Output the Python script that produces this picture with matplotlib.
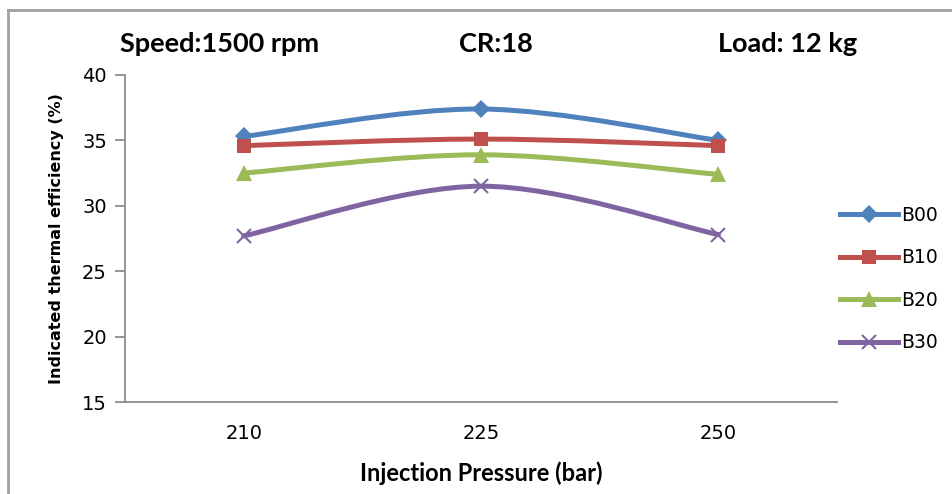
import matplotlib.pyplot as plt
from matplotlib.path import Path
from matplotlib.patches import PathPatch
from matplotlib.lines import Line2D

pressures = ["210", "225", "250"]
b00 = [35.3, 37.4, 35.0]
b10 = [34.6, 35.1, 34.6]
b20 = [32.5, 33.9, 32.4]
b30 = [27.7, 31.5, 27.8]

series = [
    ("B00", b00, "#4F81BD", "D", 9.5),
    ("B10", b10, "#C0504D", "s", 10),
    ("B20", b20, "#9BBB59", "^", 11),
    ("B30", b30, "#8064A2", "x", 10),
]


def smooth_path(xs, ys):
    # excel-like smoothed line: bezier segments, tension 1/6
    pts = list(zip(xs, ys))
    n = len(pts)
    verts = [pts[0]]
    codes = [Path.MOVETO]
    for i in range(n - 1):
        p0 = pts[max(i - 1, 0)]
        p1 = pts[i]
        p2 = pts[i + 1]
        p3 = pts[min(i + 2, n - 1)]
        c1 = (p1[0] + (p2[0] - p0[0]) / 6, p1[1] + (p2[1] - p0[1]) / 6)
        c2 = (p2[0] - (p3[0] - p1[0]) / 6, p2[1] - (p3[1] - p1[1]) / 6)
        verts += [c1, c2, p2]
        codes += [Path.CURVE4] * 3
    return Path(verts, codes)


fig = plt.figure(figsize=(9.52, 4.94), dpi=100)
ax = fig.add_axes([0.1313, 0.1862, 0.7480, 0.6620])

xpos = list(range(len(pressures)))
handles = []
for name, vals, col, mk, ms in series:
    ax.add_patch(PathPatch(smooth_path(xpos, vals), facecolor="none",
                           edgecolor=col, lw=3.6, capstyle="round", zorder=3))
    mew = 1.5 if mk == "x" else 0
    ax.plot(xpos, vals, linestyle="none", marker=mk, markersize=ms,
            color=col, markeredgewidth=mew, zorder=4)
    handles.append(Line2D([], [], color=col, lw=3.6, marker=mk,
                          markersize=ms, markeredgewidth=mew, label=name))

ax.set_xlim(-0.5, 2.5)
ax.set_ylim(15, 40)
ax.set_yticks([15, 20, 25, 30, 35, 40])
ax.set_xticks(xpos)
ax.set_xticklabels(pressures)

for s in ["top", "right"]:
    ax.spines[s].set_visible(False)
ax.spines["left"].set_color("#8c8c8c")
ax.spines["bottom"].set_color("#8c8c8c")
ax.spines["left"].set_linewidth(1.3)
ax.spines["bottom"].set_linewidth(1.3)
ax.tick_params(axis="y", direction="out", length=7, width=1.3,
               color="#8c8c8c", labelsize=14, pad=6)
ax.tick_params(axis="x", length=0, labelsize=14, pad=16)

ax.set_xlabel("Injection Pressure (bar)", fontsize=17, fontweight="bold",
              family="Lato")
ax.xaxis.set_label_coords(0.5, -0.182)
ax.set_ylabel("Indicated thermal efficiency (%)", fontsize=11.5,
              fontweight="bold")
ax.yaxis.set_label_coords(-0.086, 0.50)

fig.text(120 / 952, 1 - 44 / 494, "Speed:1500 rpm", fontsize=19.5,
         fontweight="bold", family="Lato", va="center", ha="left")
fig.text(496 / 952, 1 - 44 / 494, "CR:18", fontsize=19.5,
         fontweight="bold", family="Lato", va="center", ha="center")
fig.text(718 / 952, 1 - 44 / 494, "Load: 12 kg", fontsize=19.5,
         fontweight="bold", family="Lato", va="center", ha="left")

fig.legend(handles=handles, loc="center left",
           bbox_to_anchor=(832 / 952, 1 - 279 / 494), frameon=False,
           fontsize=13.5, labelspacing=1.25, handlelength=3.1,
           handletextpad=0.2, borderaxespad=0)

# outer chart frame (left and top edges)
fig.add_artist(Line2D([8 / 952, 8 / 952], [0, 1 - 10 / 494],
                      transform=fig.transFigure, color="#a0a0a0", lw=2))
fig.add_artist(Line2D([8 / 952, 1], [1 - 10 / 494, 1 - 10 / 494],
                      transform=fig.transFigure, color="#a0a0a0", lw=2))

fig.savefig("out.png", dpi=100)
